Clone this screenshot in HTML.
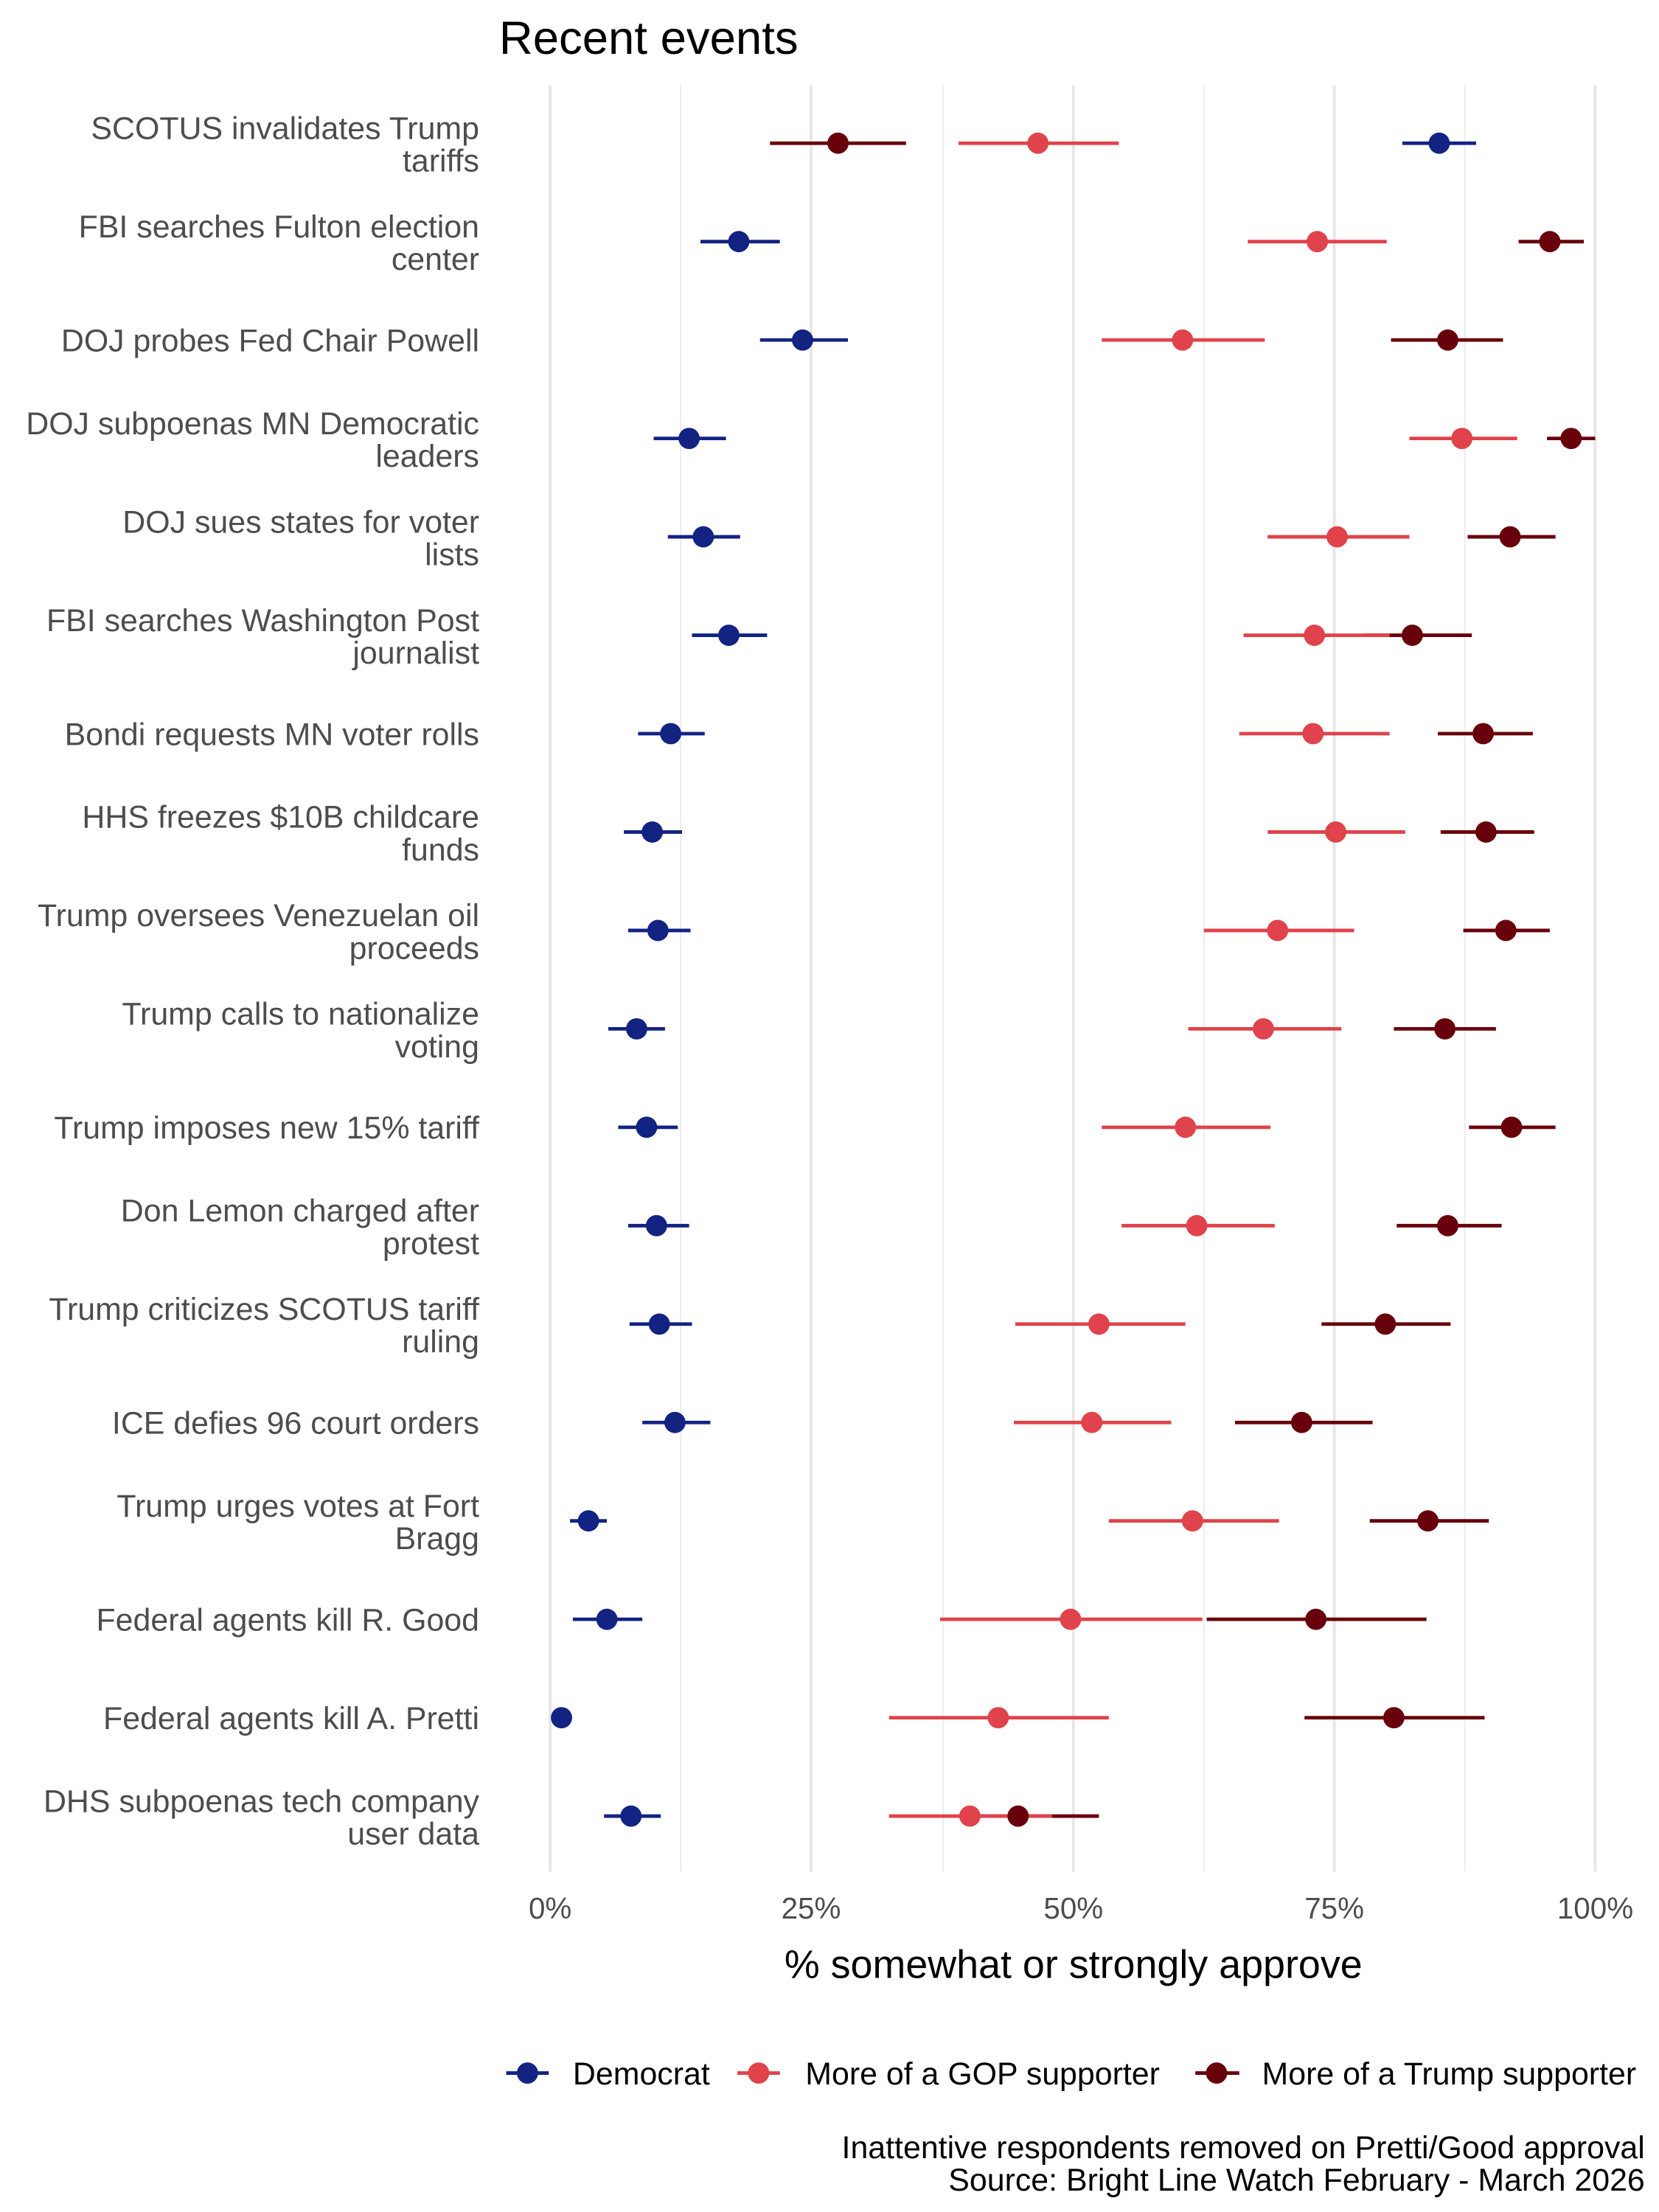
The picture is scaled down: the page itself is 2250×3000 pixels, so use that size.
<!DOCTYPE html>
<html><head><meta charset="utf-8"><style>html,body{margin:0;padding:0;background:#fff}svg{display:block}</style></head>
<body>
<svg width="2250" height="3000" viewBox="0 0 1170 1560" xmlns="http://www.w3.org/2000/svg" font-family="Liberation Sans, Arial, sans-serif">
<rect width="1170" height="1560" fill="#fff"/>
<g stroke="#ebebeb" stroke-width="1">
<line x1="480" y1="60" x2="480" y2="1320"/><line x1="665" y1="60" x2="665" y2="1320"/><line x1="849" y1="60" x2="849" y2="1320"/><line x1="1033" y1="60" x2="1033" y2="1320"/>
</g>
<g stroke="#e6e6e6" stroke-width="2">
<line x1="388" y1="60" x2="388" y2="1320"/><line x1="572" y1="60" x2="572" y2="1320"/><line x1="757" y1="60" x2="757" y2="1320"/><line x1="941" y1="60" x2="941" y2="1320"/><line x1="1125" y1="60" x2="1125" y2="1320"/>
</g>
<text x="352" y="38" font-size="33" fill="#000">Recent events</text>
<g id="labels" font-size="22.3" fill="#4d4d4d" text-anchor="end"></g>
<g id="data"></g>
<g font-size="21" fill="#4d4d4d" text-anchor="middle">
<text x="388" y="1353">0%</text><text x="572" y="1353">25%</text><text x="757" y="1353">50%</text><text x="941" y="1353">75%</text><text x="1125" y="1353">100%</text>
</g>
<text x="757" y="1395" font-size="28" fill="#000" text-anchor="middle">% somewhat or strongly approve</text>
<g stroke-width="2.5">
<line x1="357" y1="1462" x2="387" y2="1462" stroke="#122382"/><circle cx="372" cy="1462" r="7.5" fill="#122382"/>
<line x1="520" y1="1462" x2="550" y2="1462" stroke="#e0434b"/><circle cx="535" cy="1462" r="7.5" fill="#e0434b"/>
<line x1="843" y1="1462" x2="874" y2="1462" stroke="#68000b"/><circle cx="858" cy="1462" r="7.5" fill="#68000b"/>
</g>
<g font-size="22.3" fill="#000">
<text x="404" y="1470">Democrat</text><text x="568" y="1470">More of a GOP supporter</text><text x="890" y="1470">More of a Trump supporter</text>
</g>
<g font-size="22.3" fill="#000" text-anchor="end">
<text x="1160" y="1522">Inattentive respondents removed on Pretti/Good approval</text>
<text x="1160" y="1545">Source: Bright Line Watch February - March 2026</text>
</g>
<script>
var rows=[
["SCOTUS invalidates Trump|tariffs",[1015,989,1041],[732,676,789],[591,543,639]],
["FBI searches Fulton election|center",[521,494,550],[929,880,978],[1093,1071,1117]],
["DOJ probes Fed Chair Powell",[566,536,598],[834,777,892],[1021,981,1060]],
["DOJ subpoenas MN Democratic|leaders",[486,461,512],[1031,994,1070],[1108,1091,1125]],
["DOJ sues states for voter|lists",[496,471,522],[943,894,994],[1065,1035,1097]],
["FBI searches Washington Post|journalist",[514,488,541],[927,877,980],[996,963,1038]],
["Bondi requests MN voter rolls",[473,450,497],[926,874,980],[1046,1014,1081]],
["HHS freezes $10B childcare|funds",[460,440,481],[942,894,991],[1048,1016,1082]],
["Trump oversees Venezuelan oil|proceeds",[464,443,487],[901,849,955],[1062,1032,1093]],
["Trump calls to nationalize|voting",[449,429,469],[891,838,946],[1019,983,1055]],
["Trump imposes new 15% tariff",[456,436,478],[836,777,896],[1066,1036,1097]],
["Don Lemon charged after|protest",[463,443,486],[844,791,899],[1021,985,1059]],
["Trump criticizes SCOTUS tariff|ruling",[465,444,488],[775,716,836],[977,932,1023]],
["ICE defies 96 court orders",[476,453,501],[770,715,826],[918,871,968]],
["Trump urges votes at Fort|Bragg",[415,402,428],[841,782,902],[1007,966,1050]],
["Federal agents kill R. Good",[428,404,453],[755,663,848],[928,851,1006]],
["Federal agents kill A. Pretti",[396,390,400],[704,627,782],[983,920,1047]],
["DHS subpoenas tech company|user data",[445,426,466],[684,627,742],[718,678,775]]];
var NS="http://www.w3.org/2000/svg",L=document.getElementById("labels"),D=document.getElementById("data");
var cols=["#122382","#e0434b","#68000b"];
function el(t,a,p){var e=document.createElementNS(NS,t);for(var k in a)e.setAttribute(k,a[k]);p.appendChild(e);return e;}
var lines=el("g",{},D),pts=el("g",{},D);
rows.forEach(function(r,i){
 var y=101+i*69.4;
 var parts=r[0].split("|");
 if(parts.length==1){var t=el("text",{x:338,y:y+8},L);t.textContent=parts[0];}
 var t1;
 if(parts.length>1){t1=el("text",{x:338,y:y-3},L);t1.textContent=parts[0];var t2=el("text",{x:338,y:y+20},L);t2.textContent=parts[1];}
 [2,1,0].forEach(function(s){var d=r[s+1];el("line",{x1:d[1],x2:d[2],y1:y,y2:y,stroke:cols[s],"stroke-width":2.5},lines);});
 [0,1,2].forEach(function(s){var d=r[s+1];el("circle",{cx:d[0],cy:y,r:7.5,fill:cols[s]},pts);});
});
</script>
</svg>
</body></html>
